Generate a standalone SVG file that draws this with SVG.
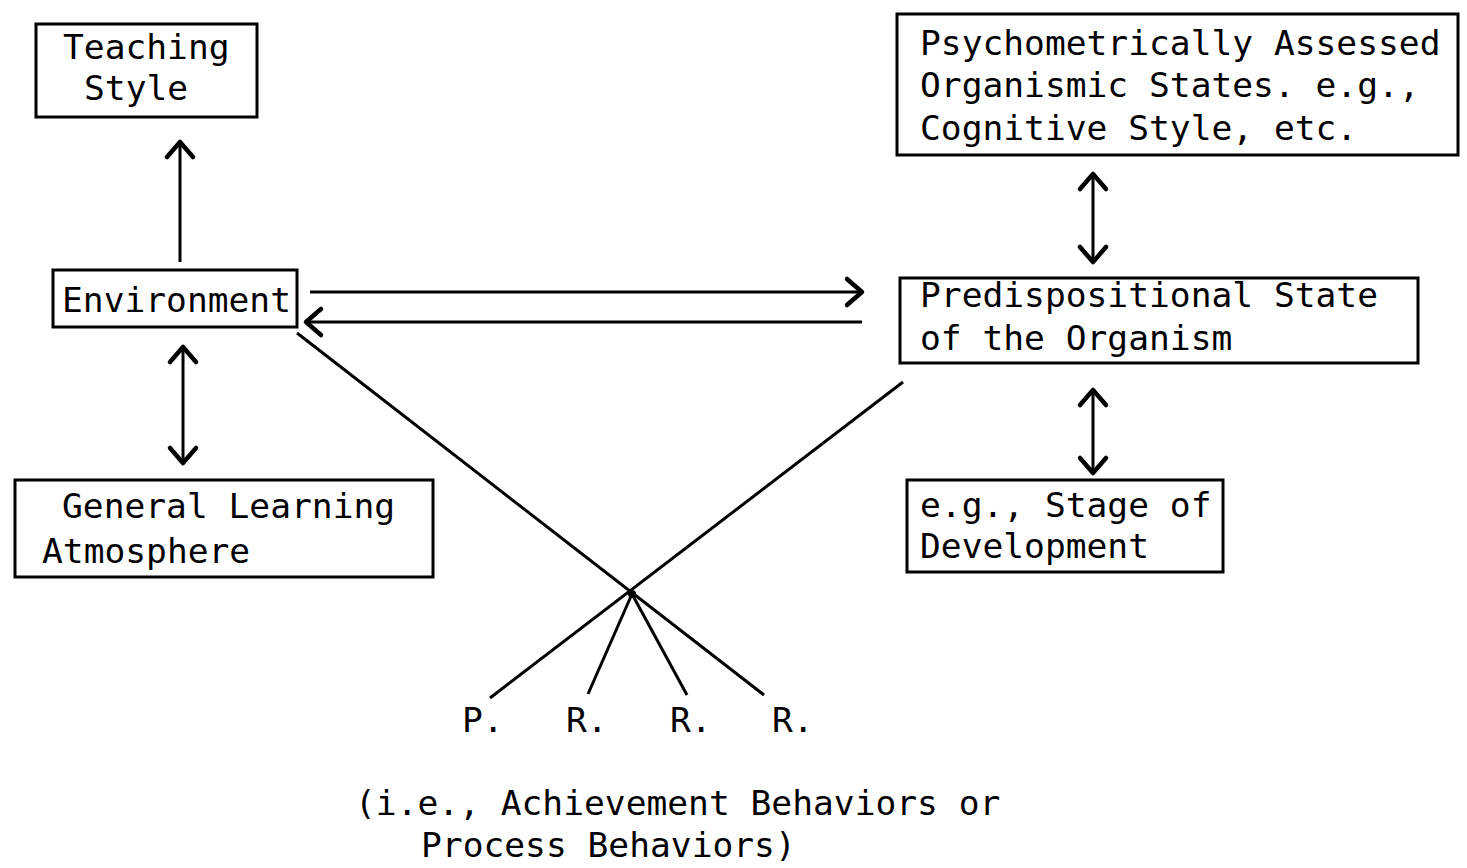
<svg xmlns="http://www.w3.org/2000/svg" width="1467" height="868" viewBox="0 0 1467 868">
  <style>
    .box { fill: none; stroke: #000; stroke-width: 3; }
    .lbl { font-family: "DejaVu Sans Mono", "Liberation Mono", monospace; font-size: 34.6px; fill: #000; }
    .edge { fill: none; stroke: #000; stroke-width: 3; }
    .arr { marker-end: url(#head); }
    .both { marker-start: url(#head); marker-end: url(#head); }
  </style>
  <defs>
    <marker id="head" markerUnits="userSpaceOnUse" markerWidth="40" markerHeight="40" viewBox="-20 -20 40 40" refX="0" refY="0" orient="auto-start-reverse">
      <path d="M -15 -13 L 0 0 L -15 13" fill="none" stroke="#000" stroke-width="4.5" stroke-linecap="round" stroke-linejoin="round"/>
    </marker>
  </defs>
  <rect width="1467" height="868" fill="#fff"/>

  <g id="teaching-style">
    <rect class="box" x="36" y="24" width="221" height="93"/>
    <text class="lbl" x="63" y="59">Teaching</text>
    <text class="lbl" x="84" y="100">Style</text>
  </g>

  <g id="psychometric-states">
    <rect class="box" x="897" y="14" width="561" height="141"/>
    <text class="lbl" x="920" y="55">Psychometrically Assessed</text>
    <text class="lbl" x="920" y="97">Organismic States. e.g.,</text>
    <text class="lbl" x="920" y="140">Cognitive Style, etc.</text>
  </g>

  <g id="environment">
    <rect class="box" x="53" y="270" width="244" height="57"/>
    <text class="lbl" x="62" y="312">Environment</text>
  </g>

  <g id="predispositional-state">
    <rect class="box" x="900" y="278" width="518" height="85"/>
    <text class="lbl" x="920" y="307">Predispositional State</text>
    <text class="lbl" x="920" y="350">of the Organism</text>
  </g>

  <g id="learning-atmosphere">
    <rect class="box" x="15" y="480" width="418" height="97"/>
    <text class="lbl" x="62" y="518">General Learning</text>
    <text class="lbl" x="42" y="563">Atmosphere</text>
  </g>

  <g id="stage-of-development">
    <rect class="box" x="907" y="480" width="316" height="92"/>
    <text class="lbl" x="920" y="517">e.g., Stage of</text>
    <text class="lbl" x="920" y="558">Development</text>
  </g>

  <g id="connectors">
    <line class="edge arr" x1="180" y1="262" x2="180" y2="142"/>
    <line class="edge both" x1="1093" y1="174" x2="1093" y2="262"/>
    <line class="edge arr" x1="310" y1="292" x2="862" y2="292"/>
    <line class="edge arr" x1="862" y1="322" x2="306" y2="322"/>
    <line class="edge both" x1="183" y1="347" x2="183" y2="463"/>
    <line class="edge both" x1="1093" y1="390" x2="1093" y2="473"/>
    <!-- crossing lines meeting at the response node -->
    <line class="edge" x1="297" y1="333" x2="764" y2="695"/>
    <line class="edge" x1="903" y1="382" x2="490" y2="698"/>
    <line class="edge" x1="632" y1="594" x2="588" y2="694"/>
    <line class="edge" x1="632" y1="594" x2="687" y2="695"/>
    <circle cx="632" cy="594" r="4" fill="#000"/>
  </g>

  <g id="responses">
    <text class="lbl" x="462" y="732">P.</text>
    <text class="lbl" x="566" y="732">R.</text>
    <text class="lbl" x="670" y="732">R.</text>
    <text class="lbl" x="772" y="732">R.</text>
  </g>

  <g id="response-note">
    <text class="lbl" x="355" y="815">(i.e., Achievement Behaviors or</text>
    <text class="lbl" x="421" y="857">Process Behaviors)</text>
  </g>
</svg>
